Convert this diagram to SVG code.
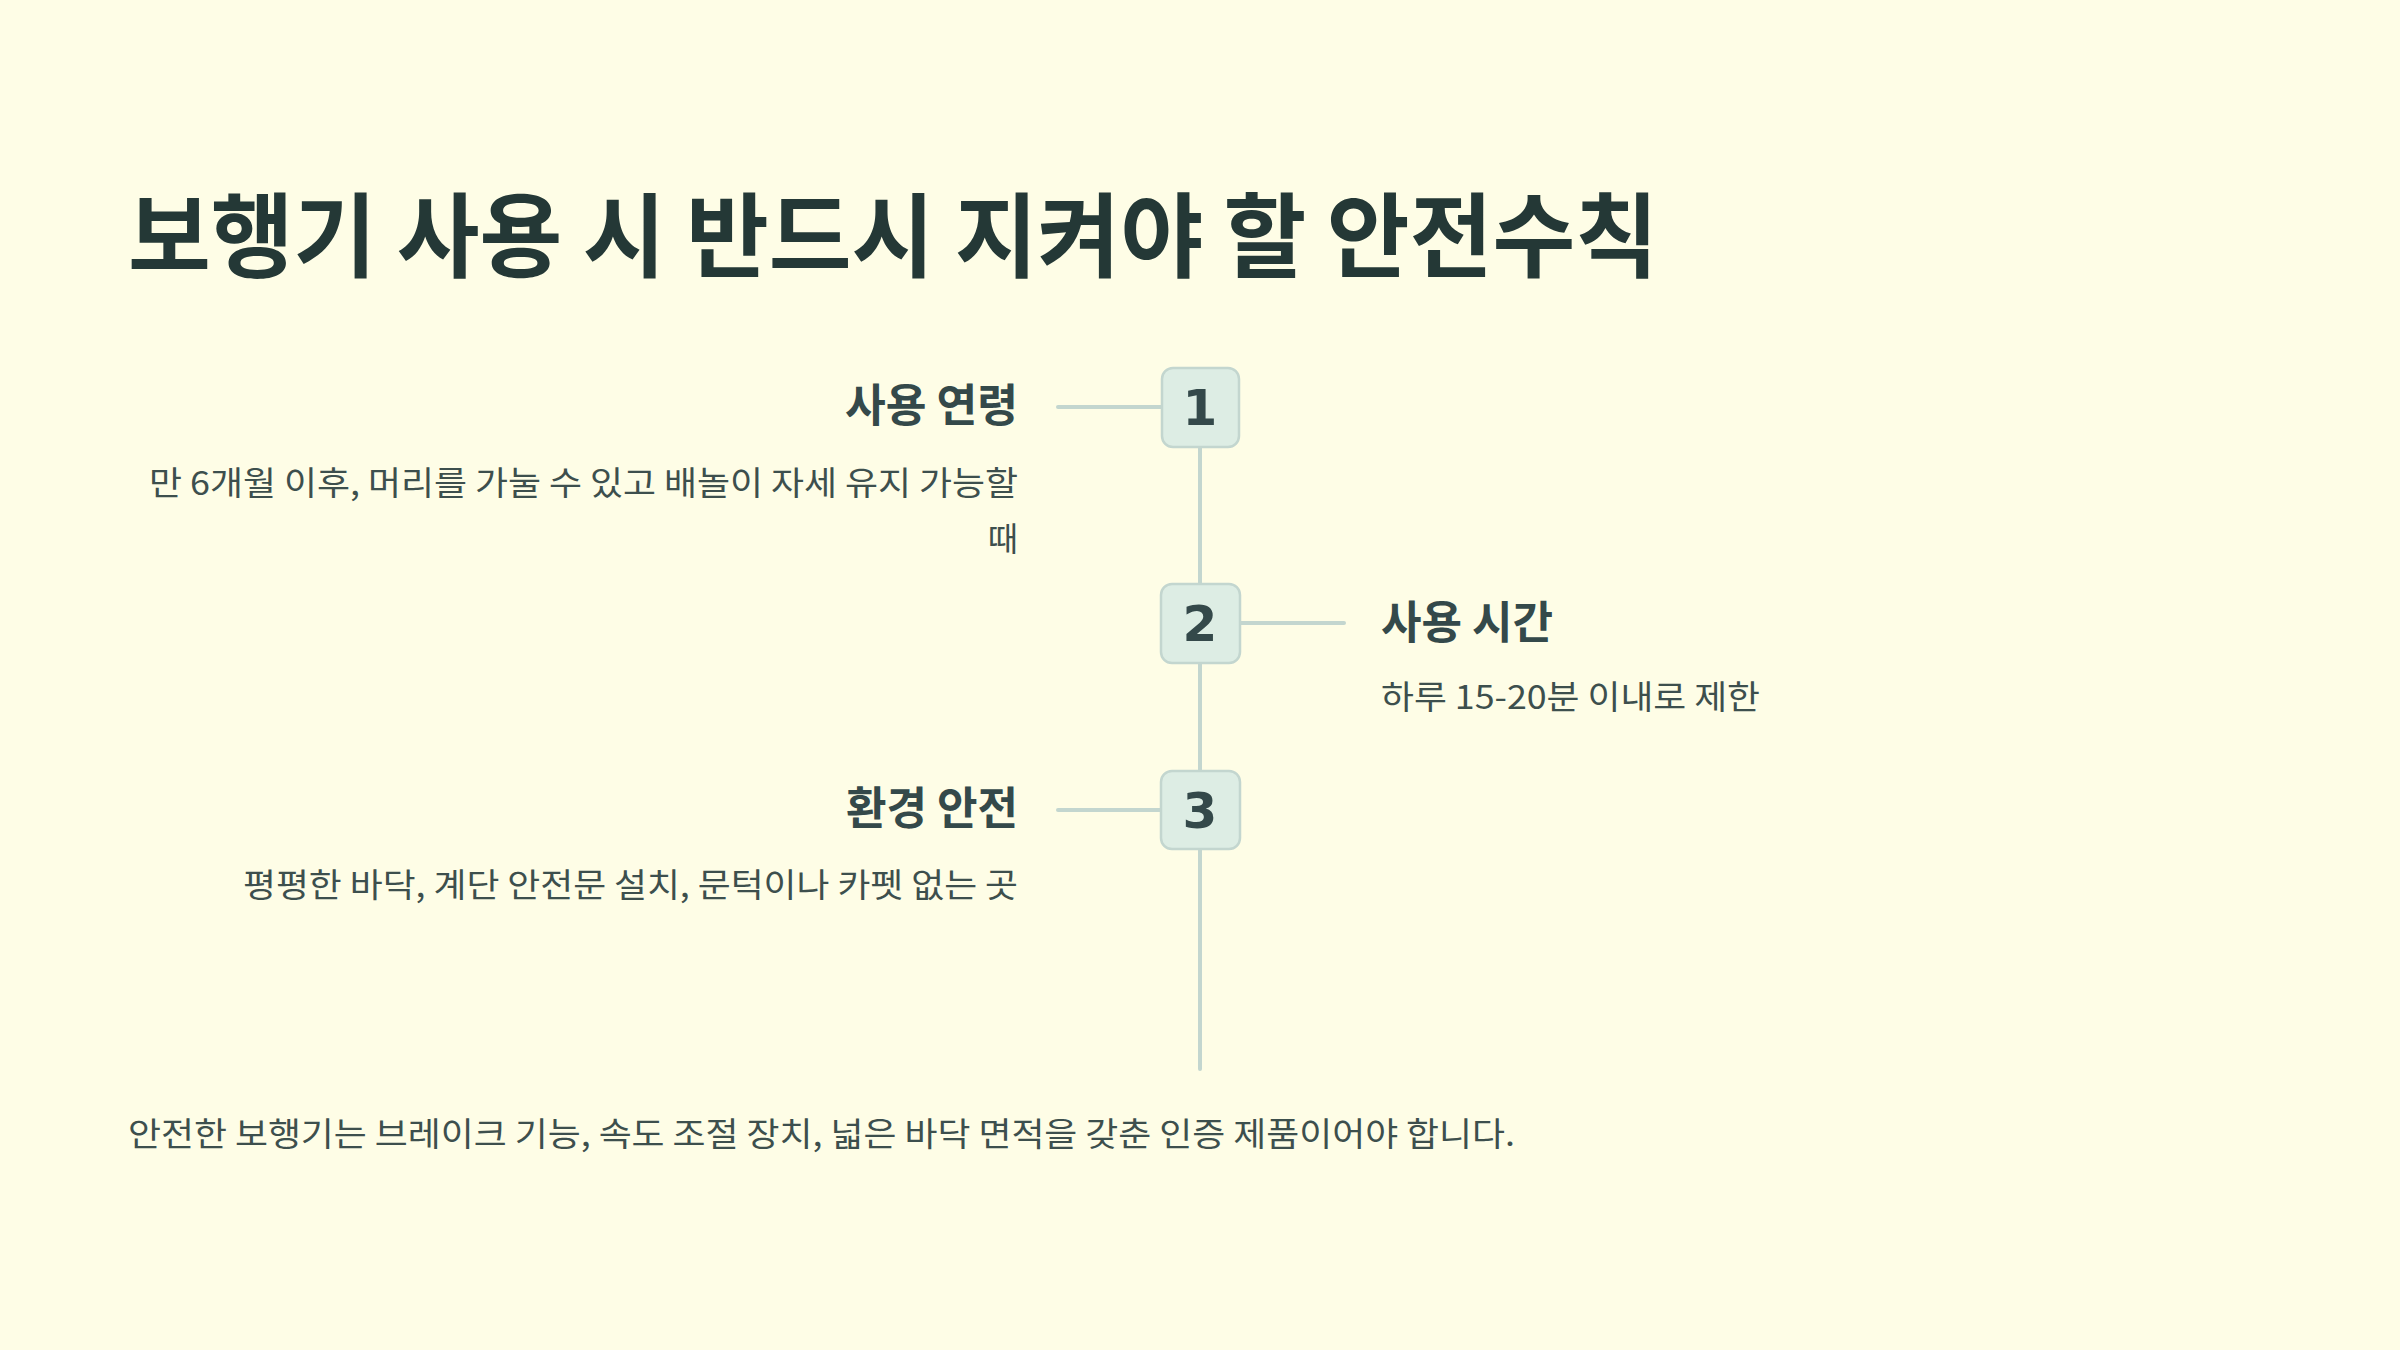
<svg xmlns="http://www.w3.org/2000/svg" width="2400" height="1350" viewBox="0 0 2400 1350">
<style>
.kr{font-family:"Noto Sans CJK KR","Noto Sans",sans-serif;}
.title{font-size:92px;font-weight:700;fill:#243836;}
.head{font-size:45px;font-weight:700;fill:#34494a;}
.desc{font-size:33px;font-weight:400;fill:#3d4f4d;}
.box{fill:#ddede4;stroke:#c3d6cf;stroke-width:2.5;}
.num{font-family:"DejaVu Sans",sans-serif;font-size:50px;font-weight:700;fill:#34494a;text-anchor:middle;}
.ln{stroke:#c3d6cf;stroke-width:4;stroke-linecap:round;fill:none;}
</style>
<rect width="2400" height="1350" fill="#fefde6"/>
<text id="title" class="kr title" x="128" y="270" textLength="1530" lengthAdjust="spacingAndGlyphs">보행기 사용 시 반드시 지켜야 할 안전수칙</text>
<g id="connectors">
<line class="ln" x1="1200" y1="447" x2="1200" y2="1069"/>
<line class="ln" x1="1058" y1="407" x2="1162" y2="407"/>
<line class="ln" x1="1240" y1="623" x2="1344" y2="623"/>
<line class="ln" x1="1058" y1="810" x2="1162" y2="810"/>
</g>
<g id="node1">
<rect class="box" x="1162" y="368" width="77" height="79" rx="11"/>
<text class="num" x="1200" y="425">1</text>
<text class="kr head" x="1018" y="422" text-anchor="end" textLength="173" lengthAdjust="spacingAndGlyphs">사용 연령</text>
<text class="kr desc" x="1018" y="495" text-anchor="end" textLength="869" lengthAdjust="spacingAndGlyphs">만 6개월 이후, 머리를 가눌 수 있고 배놀이 자세 유지 가능할</text>
<text class="kr desc" x="1018" y="551" text-anchor="end">때</text>
</g>
<g id="node2">
<rect class="box" x="1161" y="584" width="79" height="79" rx="11"/>
<text class="num" x="1200" y="641">2</text>
<text class="kr head" x="1381" y="639" textLength="172" lengthAdjust="spacingAndGlyphs">사용 시간</text>
<text class="kr desc" x="1381" y="709" textLength="379" lengthAdjust="spacingAndGlyphs">하루 15-20분 이내로 제한</text>
</g>
<g id="node3">
<rect class="box" x="1161" y="771" width="79" height="78" rx="11"/>
<text class="num" x="1200" y="828">3</text>
<text class="kr head" x="1018" y="825" text-anchor="end" textLength="172" lengthAdjust="spacingAndGlyphs">환경 안전</text>
<text class="kr desc" x="1018" y="897" text-anchor="end" textLength="775" lengthAdjust="spacingAndGlyphs">평평한 바닥, 계단 안전문 설치, 문턱이나 카펫 없는 곳</text>
</g>
<text id="footer" class="kr desc" x="128" y="1146" textLength="1387" lengthAdjust="spacingAndGlyphs">안전한 보행기는 브레이크 기능, 속도 조절 장치, 넓은 바닥 면적을 갖춘 인증 제품이어야 합니다.</text>
</svg>
